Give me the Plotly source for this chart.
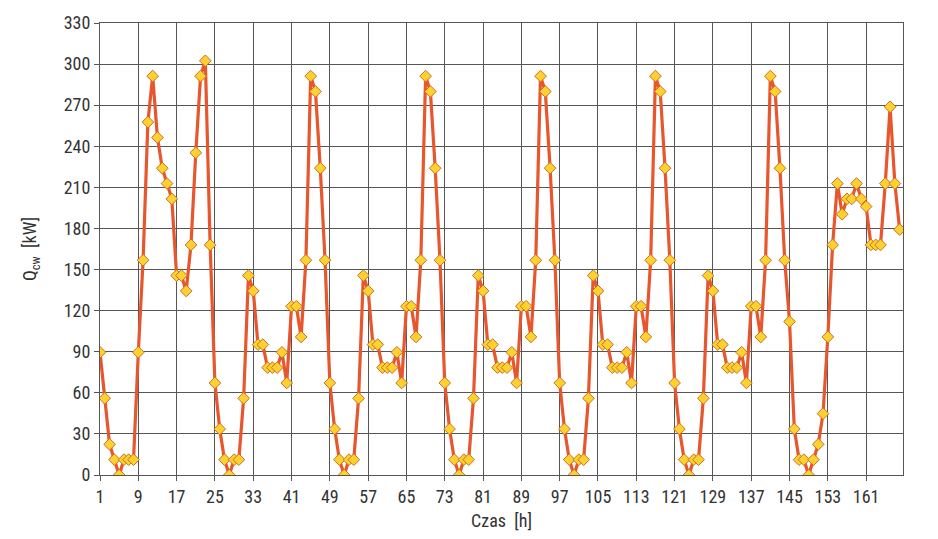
import plotly.graph_objects as go

hours = list(range(1, 169))

day1 = [89.6, 56, 22.4, 11.2, 0, 11.2, 11.2, 11.2, 89.6, 156.8, 257.6, 291.2,
        246.4, 224, 212.8, 201.6, 145.6, 145.6, 134.4, 168, 235.2, 291.2, 302.4, 168]
day2 = [67.2, 33.6, 11.2, 0, 11.2, 11.2, 56, 145.6, 134.4, 95.2, 95.2, 78.4,
        78.4, 78.4, 89.6, 67.2, 123.2, 123.2, 100.8, 156.8, 291.2, 280, 224, 156.8]
day3 = [67.2, 33.6, 11.2, 0, 11.2, 11.2, 56, 145.6, 134.4, 95.2, 95.2, 78.4,
        78.4, 78.4, 89.6, 67.2, 123.2, 123.2, 100.8, 156.8, 291.2, 280, 224, 156.8]
day4 = [67.2, 33.6, 11.2, 0, 11.2, 11.2, 56, 145.6, 134.4, 95.2, 95.2, 78.4,
        78.4, 78.4, 89.6, 67.2, 123.2, 123.2, 100.8, 156.8, 291.2, 280, 224, 156.8]
day5 = [67.2, 33.6, 11.2, 0, 11.2, 11.2, 56, 145.6, 134.4, 95.2, 95.2, 78.4,
        78.4, 78.4, 89.6, 67.2, 123.2, 123.2, 100.8, 156.8, 291.2, 280, 224, 156.8]
day6 = [67.2, 33.6, 11.2, 0, 11.2, 11.2, 56, 145.6, 134.4, 95.2, 95.2, 78.4,
        78.4, 78.4, 89.6, 67.2, 123.2, 123.2, 100.8, 156.8, 291.2, 280, 224, 156.8]
day7 = [112, 33.6, 11.2, 11.2, 0, 11.2, 22.4, 44.8, 100.8, 168, 212.8, 190.4,
        201.6, 201.6, 212.8, 201.6, 196, 168, 168, 168, 212.8, 268.8, 212.8, 179.2]

q_cw = day1 + day2 + day3 + day4 + day5 + day6 + day7

x_tick_vals = list(range(1, 162, 8))
y_tick_vals = list(range(0, 331, 30))

FONT = "Liberation Sans Narrow, Arial Narrow, Roboto Condensed, Liberation Sans, sans-serif"
GRID = "#555555"

fig = go.Figure()
fig.add_trace(go.Scatter(
    x=hours, y=q_cw, mode="lines+markers",
    line=dict(color="#E8562E", width=3.2),
    marker=dict(symbol="diamond", size=9, color="#FFD12E",
                line=dict(color="#C8702A", width=1)),
    showlegend=False,
))

fig.update_layout(
    width=938, height=539,
    margin=dict(l=100, r=35, t=19, b=64),
    paper_bgcolor="white", plot_bgcolor="white",
    font=dict(family=FONT, size=18, color="#333333"),
    xaxis=dict(
        range=[1, 168.7], tickvals=x_tick_vals,
        showgrid=True, gridcolor=GRID, gridwidth=1.2,
        showline=True, linecolor=GRID, linewidth=1.2, mirror=True,
        ticks="outside", ticklen=5, tickcolor=GRID,
        zeroline=False,
        title=dict(text="Czas  [h]", font=dict(size=18, family=FONT, color="#333333"), standoff=8),
    ),
    yaxis=dict(
        range=[0, 330], tickvals=y_tick_vals,
        showgrid=True, gridcolor=GRID, gridwidth=1.2,
        showline=True, linecolor=GRID, linewidth=1.2, mirror=True,
        ticks="outside", ticklen=5, tickcolor=GRID,
        zeroline=False,
        title=dict(text="Q<sub>cw</sub>  [kW]", font=dict(size=18, family=FONT, color="#333333"), standoff=22),
    ),
)

fig.write_html("out.html")
